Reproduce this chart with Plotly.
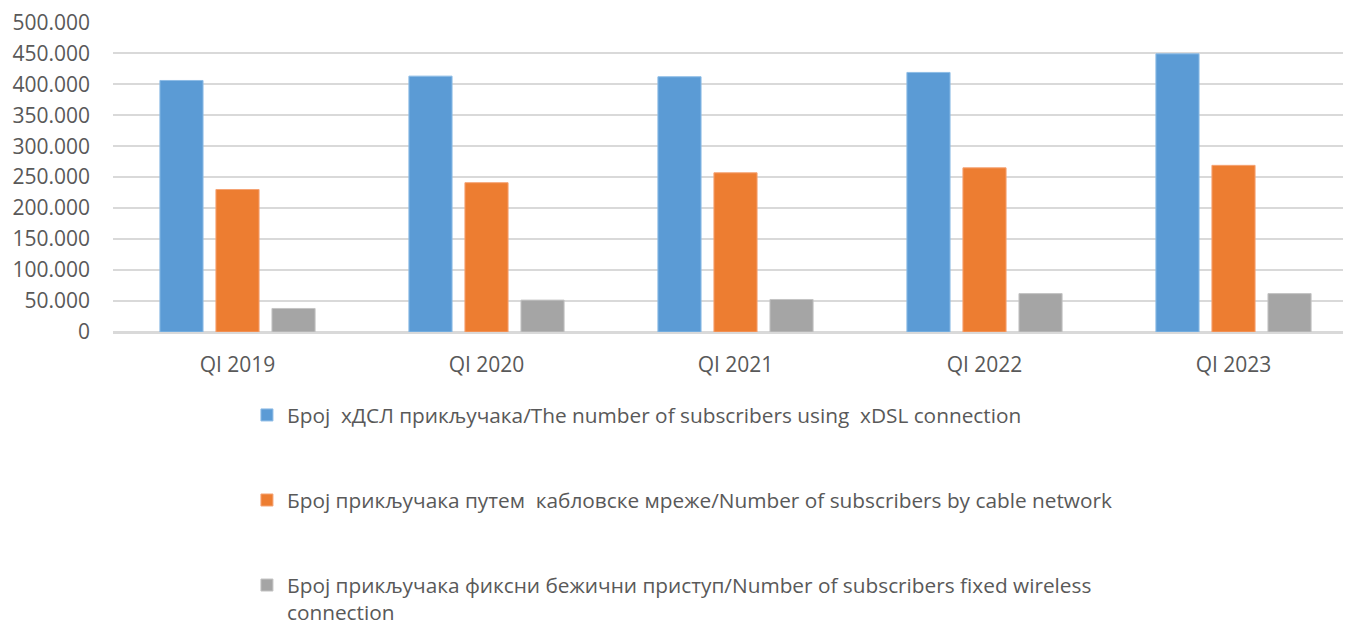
import plotly.graph_objects as go

# Категорије и вредности (очитано са графика)
quarters = ["QI 2019", "QI 2020", "QI 2021", "QI 2022", "QI 2023"]

xdsl = [406000, 413000, 412000, 419000, 449000]
cable = [230000, 241000, 257000, 265000, 269000]
wireless = [38000, 51500, 52500, 62000, 62000]

names = [
    "Број  хДСЛ прикључака/The number of subscribers using  xDSL connection",
    "Број прикључака путем  кабловске мреже/Number of subscribers by cable network",
    "Број прикључака фиксни бежични приступ/Number of subscribers fixed wireless<br>connection",
]
colors = ["#5B9BD5", "#ED7D31", "#A5A5A5"]
edge = ["#8DBCE6", "#F5A374", "#C4C4C4"]

fig = go.Figure()
for i, vals in enumerate([xdsl, cable, wireless]):
    fig.add_trace(go.Bar(
        x=quarters, y=vals, name=names[i],
        marker=dict(color=colors[i], line=dict(color=edge[i], width=1)),
        legendgroup=f"g{i}",
    ))

font_family = "Open Sans, Noto Sans, sans-serif"

# страница има 8px маргину у прегледачу, зато t/l мањи за 8
fig.update_layout(
    width=1351, height=624,
    margin=dict(l=105, r=0, t=14, b=300, autoexpand=False),
    plot_bgcolor="white", paper_bgcolor="white",
    barmode="group", bargap=0.325, bargroupgap=0.23,
    separators=",.",
    font=dict(family=font_family, color="#595959", size=20),
    legend=dict(
        orientation="v", x=0.1075, xanchor="left", y=-0.203, yanchor="top",
        traceorder="grouped", tracegroupgap=55, valign="top",
        font=dict(size=20.8, color="#595959"),
    ),
)

fig.update_xaxes(
    range=[-0.5, 4.504], showgrid=False, automargin=False,
    showline=True, linecolor="#D9D9D9", linewidth=1.5,
    ticks="", ticklabelstandoff=13,
    tickfont=dict(size=21, color="#595959"),
)
fig.update_yaxes(
    range=[0, 500400], dtick=50000, tickformat=",d", automargin=False,
    ticklabeloverflow="allow",
    showgrid=True, gridcolor="#D9D9D9", gridwidth=1.5,
    zeroline=True, zerolinecolor="#D9D9D9", zerolinewidth=1.5,
    ticks="", ticklabelstandoff=22,
    tickfont=dict(size=21, color="#595959"),
)

fig.write_html("out.html")
